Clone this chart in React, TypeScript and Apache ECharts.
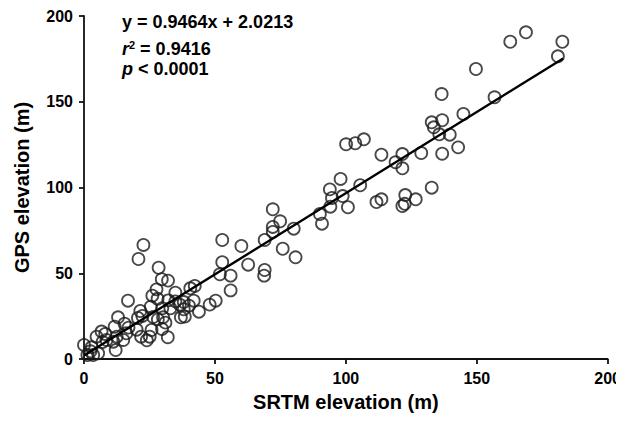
import React, { useEffect, useRef } from "react";
import * as echarts from "echarts";

const srtm: number[] = [
  168.8, 162.8, 182.7, 181.0, 149.7, 136.6, 156.8, 144.9, 132.8, 136.8, 133.6, 135.7, 139.7, 142.9, 128.8, 136.8, 121.6, 121.6, 132.8, 122.7, 126.7,
  100.1, 103.6, 106.9, 113.6, 119.0, 98.0, 93.9, 105.5, 94.7, 98.8, 94.1, 100.8, 111.7, 113.6, 121.6, 90.1, 90.9, 72.1, 74.9, 72.1, 72.1, 80.1, 69.0, 75.9, 80.8, 52.8, 60.1, 52.8, 62.7, 69.0, 68.8, 122.5,
  22.7, 20.8, 56.0, 51.9, 56.0, 28.5, 29.7, 32.1, 27.7, 26.1, 28.1, 34.9, 32.2, 34.9, 38.1, 36.6, 40.6, 42.3, 41.9, 40.1, 38.1, 37.0, 38.5, 43.9, 48.0, 50.3, 16.8, 25.5, 21.5, 20.6, 22.3, 26.4, 28.2, 30.2, 31.1, 29.8, 25.8, 24.0, 21.8, 20.1, 17.0, 15.5, 13.0, 11.7, 12.5, 8.1, 7.1, 12.1, 32.0, 33.0, 29.9,
  0.0, 2.9, 3.5, 5.4, 4.8, 6.7, 8.6, 11.2, 15.0, 16.2, 25.1, 1.3, 2.5,
];
const gps: number[] = [
  190.5, 185.0, 185.0, 176.5, 169.1, 154.5, 152.6, 142.9, 138.0, 139.2, 135.1, 131.0, 130.8, 123.4, 120.1, 119.7, 119.5, 111.2, 99.9, 95.6, 93.1,
  125.2, 125.8, 128.1, 119.1, 114.7, 105.0, 98.9, 101.3, 93.9, 95.0, 88.8, 88.5, 91.5, 93.1, 89.2, 84.5, 78.9, 87.3, 80.3, 77.0, 74.1, 76.0, 69.4, 64.3, 59.3, 69.4, 65.9, 56.4, 55.0, 51.9, 48.6, 90.5,
  66.5, 58.3, 48.6, 49.4, 40.0, 53.2, 46.5, 45.7, 40.6, 36.9, 35.1, 38.7, 34.2, 33.6, 33.2, 31.7, 41.2, 42.6, 34.0, 31.1, 29.0, 24.3, 24.7, 27.6, 31.7, 34.0, 34.0, 30.5, 28.0, 23.9, 25.1, 24.5, 23.1, 24.3, 21.2, 17.5, 16.9, 10.9, 13.0, 17.1, 18.3, 20.6, 24.3, 18.8, 13.0, 14.6, 9.9, 5.2, 12.7, 29.6, 29.6,
  8.2, 6.8, 2.3, 3.3, 13.0, 16.0, 11.1, 10.1, 11.1, 15.0, 13.0, 2.3, 4.5,
];

const slope = 0.9464;
const intercept = 2.0213;
const fitRange: number[] = [0, 183];

const axisTicks: number[] = [0, 50, 100, 150, 200];

const FONT = "Liberation Sans, Arial, Helvetica, sans-serif";

export default function App() {
  const ref = useRef<HTMLDivElement>(null);
  useEffect(() => {
    if (!ref.current) return;
    const chart = echarts.init(ref.current, undefined, { renderer: "svg" });
    const points = srtm.map((x, i) => [x, gps[i]]);
    const fit = fitRange.map((x) => [x, slope * x + intercept]);
    const axisCommon = {
      min: axisTicks[0],
      max: axisTicks[axisTicks.length - 1],
      interval: axisTicks[1] - axisTicks[0],
      splitLine: { show: false },
      axisLine: { show: true, lineStyle: { color: "#111", width: 1.8 } },
      axisTick: { show: true, length: 5, lineStyle: { color: "#111", width: 1.8 } },
      axisLabel: { color: "#000", fontSize: 16, fontWeight: "bold" as const, fontFamily: FONT, margin: 11 },
      nameLocation: "middle" as const,
      nameTextStyle: { color: "#000", fontSize: 20, fontWeight: "bold" as const, fontFamily: FONT },
    };
    chart.setOption({
      animation: false,
      backgroundColor: "#fff",
      grid: { left: 84, right: 15, top: 16, bottom: 63, containLabel: false },
      xAxis: { type: "value", ...axisCommon, name: "SRTM elevation (m)", nameGap: 33 },
      yAxis: { type: "value", ...axisCommon, name: "GPS elevation (m)", nameGap: 52 },
      series: [
        {
          type: "scatter",
          data: points,
          symbol: "circle",
          symbolSize: 12,
          clip: false,
          itemStyle: { color: "rgba(255,255,255,0)", borderColor: "#1a1a1a", borderWidth: 1.8 },
          z: 2,
        },
        {
          type: "line",
          data: fit,
          symbol: "none",
          lineStyle: { color: "#000", width: 2.4 },
          z: 3,
        },
      ],
      graphic: [
        {
          type: "text",
          left: 122,
          top: 13,
          style: { text: "y = 0.9464x + 2.0213", fill: "#000", font: `bold 18px ${FONT}` },
        },
        {
          type: "text",
          left: 122,
          top: 39,
          style: {
            text: "{i|r}{sup|2}{n| = 0.9416}",
            fill: "#000",
            rich: {
              i: { fontSize: 18, fontWeight: "bold", fontStyle: "italic", fontFamily: FONT, lineHeight: 20 },
              sup: { fontSize: 11, fontWeight: "bold", fontFamily: FONT, verticalAlign: "top", lineHeight: 20 },
              n: { fontSize: 18, fontWeight: "bold", fontFamily: FONT, lineHeight: 20 },
            },
          },
        },
        {
          type: "text",
          left: 122,
          top: 60,
          style: {
            text: "{i|p}{n| < 0.0001}",
            fill: "#000",
            rich: {
              i: { fontSize: 18, fontWeight: "bold", fontStyle: "italic", fontFamily: FONT, lineHeight: 20 },
              n: { fontSize: 18, fontWeight: "bold", fontFamily: FONT, lineHeight: 20 },
            },
          },
        },
      ],
    });
    return () => chart.dispose();
  }, []);
  return <div ref={ref} style={{ width: 624, height: 422, margin: -8 }} />;
}
